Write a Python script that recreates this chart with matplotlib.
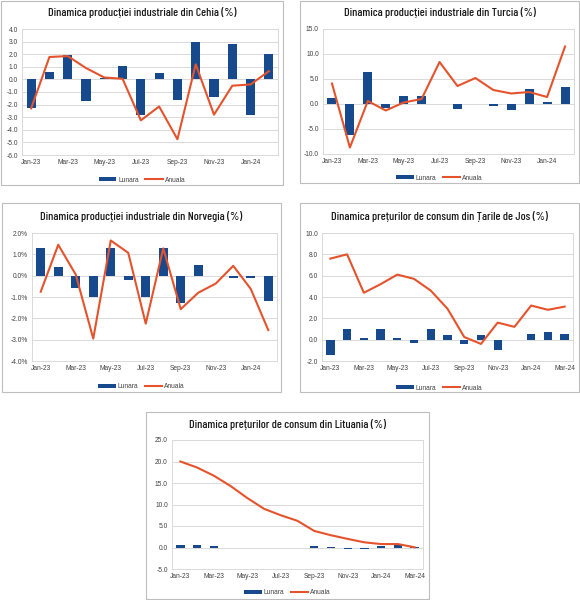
import numpy as np
import matplotlib
matplotlib.use("Agg")
import matplotlib.pyplot as plt
from matplotlib.patches import Rectangle, Patch
from matplotlib.lines import Line2D
from matplotlib import font_manager
from matplotlib.font_manager import FontProperties

months_14 = ["Jan-23", "Feb-23", "Mar-23", "Apr-23", "May-23", "Jun-23", "Jul-23",
             "Aug-23", "Sep-23", "Oct-23", "Nov-23", "Dec-23", "Jan-24", "Feb-24"]
months_15 = months_14 + ["Mar-24"]

# Cehia - productie industriala
cehia_lunara = [-2.3, 0.6, 1.9, -1.7, 0.1, 1.1, -2.8, 0.5, -1.6, 3.0, -1.4, 2.8, -2.8, 2.0]
cehia_anuala = [-2.3, 1.78, 1.85, 0.9, 0.15, 0.05, -3.25, -2.15, -4.75, 1.2, -2.8, -0.5, -0.4, 0.65]

# Turcia - productie industriala
turcia_lunara = [1.2, -6.3, 6.3, -0.8, 1.6, 1.6, -0.1, -1.0, 0.0, -0.4, -1.2, 3.0, 0.4, 3.3]
turcia_anuala = [4.1, -8.7, 0.6, -1.3, 0.3, 1.0, 8.4, 3.6, 5.2, 2.8, 2.1, 2.4, 1.4, 11.5]

# Norvegia - productie industriala (%)
norvegia_lunara = [1.3, 0.4, -0.6, -1.0, 1.3, -0.2, -1.0, 1.3, -1.3, 0.5, 0.0, -0.1, -0.1, -1.2]
norvegia_anuala = [-0.75, 1.45, 0.05, -2.95, 1.65, 1.07, -2.25, 1.28, -1.57, -0.8, -0.37, 0.46, -0.62, -2.55]

# Tarile de Jos - preturi de consum
olanda_lunara = [-1.4, 1.0, 0.15, 1.0, 0.15, -0.3, 1.0, 0.4, -0.4, 0.4, -1.0, 0.0, 0.5, 0.7, 0.5]
olanda_anuala = [7.6, 8.0, 4.4, 5.2, 6.1, 5.7, 4.6, 2.9, 0.25, -0.4, 1.6, 1.2, 3.2, 2.8, 3.1]

# Lituania - preturi de consum
lituania_lunara = [0.5, 0.5, 0.4, 0.0, -0.1, -0.1, -0.1, -0.1, 0.4, 0.2, -0.3, -0.4, 0.3, 0.5, 0.1]
lituania_anuala = [20.0, 18.6, 16.7, 14.3, 11.5, 9.0, 7.5, 6.2, 3.85, 2.85, 2.0, 1.2, 0.8, 0.8, 0.05]

BAR_COLOR = "#174a8c"
LINE_COLOR = "#e5532d"
GRID_COLOR = "#d9d9d9"
FIG_W, FIG_H = 580, 600

plt.rcParams["font.family"] = ["Liberation Sans", "DejaVu Sans"]


def pick_title_font():
    """Find a condensed face for the titles, falling back to a normal one."""
    candidates = [("Barlow Condensed", 500), ("Barlow Condensed", 400),
                  ("Barlow Semi Condensed", 500), ("Barlow Semi Condensed", 400),
                  ("Liberation Sans Narrow", 400), ("Encode Sans Condensed", 500)]
    fonts = [f for f in font_manager.fontManager.ttflist if f.style == "normal"]
    for name, weight in candidates:
        for f in fonts:
            if f.name == name and f.weight == weight:
                return FontProperties(fname=f.fname)
    for f in fonts:
        if f.name == "DejaVu Sans" and f.stretch == "condensed" and f.weight == 400:
            return FontProperties(fname=f.fname)
    return FontProperties(family="DejaVu Sans")


TITLE_FONT = pick_title_font()


def px_rect(x0, y0, x1, y1):
    """Pixel box (top-left origin) to figure fraction rect."""
    return [x0 / FIG_W, 1 - y1 / FIG_H, (x1 - x0) / FIG_W, (y1 - y0) / FIG_H]


def draw_panel(fig, box, plot_box, title, title_y, legend_y, months, lunara, anuala,
               yticks, percent=False):
    bx0, by0, bx1, by1 = box
    fig.add_artist(Rectangle((bx0 / FIG_W, 1 - by1 / FIG_H),
                             (bx1 - bx0) / FIG_W, (by1 - by0) / FIG_H,
                             transform=fig.transFigure, fill=False,
                             edgecolor="#bdbdbd", lw=0.8))
    title_text = fig.text((bx0 + bx1) / 2 / FIG_W, 1 - title_y / FIG_H, title,
                          ha="center", va="center", fontproperties=TITLE_FONT,
                          fontsize=9, color="#1a1a1a")

    ax = fig.add_axes(px_rect(*plot_box))
    x = np.arange(len(months))
    ax.bar(x, lunara, width=0.5, color=BAR_COLOR, zorder=2)
    ax.plot(x, anuala, color=LINE_COLOR, lw=1.5, zorder=3)

    ax.set_xlim(-0.5, len(months) - 0.5)
    ax.set_ylim(yticks[0], yticks[-1])
    ax.set_yticks(yticks)
    if percent:
        ax.set_yticklabels([f"{v:.1f}%" for v in yticks])
    else:
        ax.set_yticklabels([f"{v:.1f}" for v in yticks])
    ax.set_xticks(x[::2])
    ax.set_xticklabels(months[::2])
    ax.tick_params(length=0, labelsize=4.8, labelcolor="#404040", pad=3)
    ax.grid(axis="y", color=GRID_COLOR, lw=0.7, zorder=0)
    for spine in ax.spines.values():
        spine.set_color(GRID_COLOR)
        spine.set_linewidth(0.7)

    handles = [Patch(facecolor=BAR_COLOR), Line2D([0], [0], color=LINE_COLOR, lw=1.5)]
    ax.legend(handles, ["Lunara", "Anuala"], loc="center", ncol=2, frameon=False,
              fontsize=4.8, handlelength=2.6, handleheight=0.5, handletextpad=0.3,
              columnspacing=1.0, labelcolor="#404040",
              bbox_to_anchor=((bx0 + bx1) / 2 / FIG_W, 1 - legend_y / FIG_H),
              bbox_transform=fig.transFigure)
    return title_text


fig = plt.figure(figsize=(FIG_W / 100, FIG_H / 100), dpi=100)

titles = []
titles.append(draw_panel(fig, (1, 1, 283, 185), (22, 29, 278, 155),
              "Dinamica producției industriale din Cehia (%)", 13, 180,
              months_14, cehia_lunara, cehia_anuala, np.arange(-6, 5, 1)))

titles.append(draw_panel(fig, (300, 1, 579, 183), (323, 29, 574, 154),
              "Dinamica producției industriale din Turcia (%)", 13, 178,
              months_14, turcia_lunara, turcia_anuala, np.arange(-10, 16, 5)))

titles.append(draw_panel(fig, (2, 203, 281, 392), (32, 233, 277, 361),
              "Dinamica producției industriale din Norvegia (%)", 217, 387,
              months_14, norvegia_lunara, norvegia_anuala, np.arange(-4, 3, 1),
              percent=True))

titles.append(draw_panel(fig, (300, 203, 579, 392), (322, 233, 573, 361),
              "Dinamica prețurilor de consum din Țarile de Jos (%)", 217, 388,
              months_15, olanda_lunara, olanda_anuala, np.arange(-2, 11, 2)))

titles.append(draw_panel(fig, (146, 412, 429, 599), (172, 440, 423, 569),
              "Dinamica prețurilor de consum din Lituania (%)", 425, 593,
              months_15, lituania_lunara, lituania_anuala, np.arange(-5, 26, 5)))

# scale title size so the Cehia title spans about 188 px, as in the source
renderer = fig.canvas.get_renderer()
width = titles[0].get_window_extent(renderer).width
size = min(13.0, 9 * 188 / width)
for t in titles:
    t.set_fontsize(size)

fig.savefig("out.png", dpi=100, facecolor="white")
